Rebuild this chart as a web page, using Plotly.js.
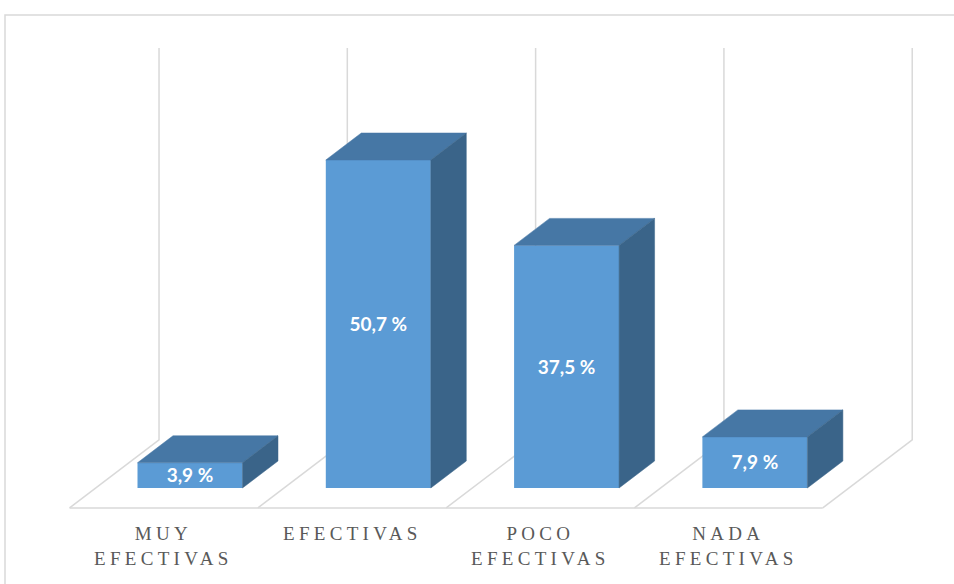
<!DOCTYPE html>
<html>
<head>
<meta charset="utf-8">
<script src="https://cdn.plot.ly/plotly-3.0.1.min.js"></script>
<style>
  html, body { margin: 0; padding: 0; background: #ffffff; }
  #chart { width: 954px; height: 584px; }
  .annotation-text { letter-spacing: 4.3px; }
</style>
</head>
<body>
<div id="chart"></div>
<script>
// ---- data ----
const categories = ["MUY<br>EFECTIVAS", "EFECTIVAS", "POCO<br>EFECTIVAS", "NADA<br>EFECTIVAS"];
const values = [3.9, 50.7, 37.5, 7.9];
const axisMax = 60;

// ---- 3D projection constants (in axis units) ----
const BAR_W = 0.5576;      // bar width in category units
const DX = 0.1885;         // depth offset per bar depth (x units)
const DY = 4.173;          // depth offset per bar depth (value units)
const D_FRONT = -0.74;     // floor front, in bar depths
const D_BACK = 1.78;       // back wall, in bar depths

const FRONT = '#5B9BD5', TOP = '#4677A5', SIDE = '#3A6489', GRID = '#D9D9D9';

const idx = categories.map((c, i) => i);
const traces = [];

// front faces
traces.push({
  type: 'bar', x: idx, y: values, width: BAR_W, base: 0,
  marker: { color: FRONT, line: { width: 0 } },
  hoverinfo: 'skip', showlegend: false
});

// top and side faces
idx.forEach(i => {
  const v = values[i];
  const l = i - BAR_W / 2, r = i + BAR_W / 2;
  traces.push({
    type: 'scatter', mode: 'lines', fill: 'toself', fillcolor: TOP,
    x: [l, r, r + DX, l + DX, l], y: [v, v, v + DY, v + DY, v],
    line: { color: TOP, width: 0.5 }, hoverinfo: 'skip', showlegend: false
  });
  traces.push({
    type: 'scatter', mode: 'lines', fill: 'toself', fillcolor: SIDE,
    x: [r, r + DX, r + DX, r, r], y: [v, v + DY, DY, 0, v],
    line: { color: SIDE, width: 0.5 }, hoverinfo: 'skip', showlegend: false
  });
});

// data labels
traces.push({
  type: 'scatter', mode: 'text', x: idx, y: values.map(v => v / 2 - 0.35),
  text: values.map(v => v.toFixed(1).replace('.', ',') + ' %'),
  textposition: 'middle center',
  textfont: { family: 'Lato, "Open Sans", sans-serif', size: 19, color: '#FFFFFF', weight: 'bold' },
  hoverinfo: 'skip', showlegend: false
});

// gridlines (back wall + floor) as shapes below the traces
const shapes = [];
const bounds = [-0.5, 0.5, 1.5, 2.5, 3.5];
bounds.forEach(b => {
  const fx = b + D_FRONT * DX, fy = D_FRONT * DY;
  const bx = b + D_BACK * DX, by = D_BACK * DY;
  shapes.push({
    type: 'path', xref: 'x', yref: 'y', layer: 'below',
    path: `M ${fx} ${fy} L ${bx} ${by} L ${bx} ${by + axisMax + 0.6}`,
    line: { color: GRID, width: 1.5 }
  });
});
shapes.push({
  type: 'line', xref: 'x', yref: 'y', layer: 'below',
  x0: bounds[0] + D_FRONT * DX, y0: D_FRONT * DY,
  x1: bounds[bounds.length - 1] + D_FRONT * DX, y1: D_FRONT * DY,
  line: { color: GRID, width: 1.5 }
});
// chart area border
shapes.push({
  type: 'rect', xref: 'paper', yref: 'paper', layer: 'below',
  x0: 5 / 954, x1: 1.2, y0: -0.2, y1: 1 - 15 / 584,
  line: { color: GRID, width: 1.5 }, fillcolor: 'rgba(0,0,0,0)'
});

// category labels
const annotations = idx.map(i => ({
  xref: 'x', yref: 'y', x: i + D_FRONT * DX, y: -5.1,
  xanchor: 'center', yanchor: 'top', showarrow: false, align: 'center',
  text: categories[i],
  font: { family: '"Liberation Serif", "Times New Roman", serif', size: 19, color: '#595959' }
}));

const layout = {
  width: 954, height: 584,
  margin: { l: 0, r: 0, t: 0, b: 0 },
  paper_bgcolor: '#FFFFFF', plot_bgcolor: '#FFFFFF',
  xaxis: { range: [-1.009, 4.0574], visible: false, fixedrange: true },
  yaxis: { range: [-14.84, 75.43], visible: false, fixedrange: true },
  barmode: 'overlay',
  shapes: shapes, annotations: annotations, showlegend: false
};

Plotly.newPlot('chart', traces, layout, { staticPlot: true, displayModeBar: false });
</script>
</body>
</html>
